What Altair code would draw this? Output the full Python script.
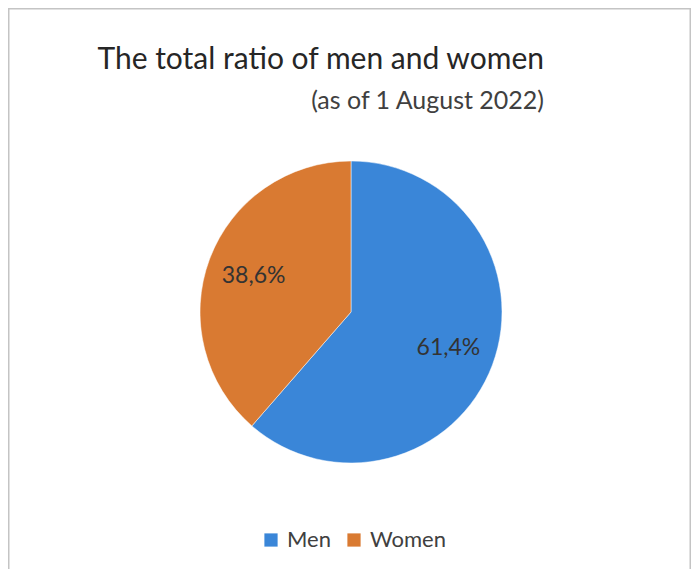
import altair as alt
import pandas as pd

categories = ["Men", "Women"]
shares = [61.4, 38.6]
labels = ["61,4%", "38,6%"]
colors = ["#3A86D8", "#D97A32"]
title_text = "The total ratio of men and women"
subtitle_text = "(as of 1 August 2022)"

df = pd.DataFrame({"sex": categories, "share": shares, "label": labels, "order": [0, 1]})

W, H = 683, 561
CX, CY, R = 343, 304, 151
FONT = "Lato"

base = alt.Chart(df).encode(
    theta=alt.Theta("share:Q", stack=True),
    order=alt.Order("order:Q"),
)

pie = base.mark_arc(outerRadius=R, stroke="white", strokeWidth=0.5).encode(
    x=alt.value(CX), y=alt.value(CY),
    color=alt.Color("sex:N", scale=alt.Scale(domain=categories, range=colors),
                    legend=alt.Legend(orient="none", direction="horizontal", title=None,
                                      legendX=252, legendY=521, symbolType="square",
                                      symbolSize=175, labelFontSize=22, labelFont=FONT,
                                      labelColor="#404040", columnPadding=12,
                                      symbolStrokeWidth=0, labelOffset=5)),
)

txt = base.mark_text(radius=104, fontSize=23, font=FONT, color="#333333").encode(
    x=alt.value(CX), y=alt.value(CY), text="label:N"
)

tdf = pd.DataFrame({"t": [title_text, subtitle_text], "k": [0, 1]})
title = alt.Chart(tdf).transform_filter("datum.k == 0").mark_text(
    align="right", baseline="alphabetic", fontSize=30, font=FONT, color="#262626"
).encode(text="t:N", x=alt.value(536), y=alt.value(61))
subtitle = alt.Chart(tdf).transform_filter("datum.k == 1").mark_text(
    align="right", baseline="alphabetic", fontSize=25, font=FONT, color="#404040"
).encode(text="t:N", x=alt.value(536), y=alt.value(101))

edges = pd.DataFrame({"e": ["top", "left", "right"]})
border_top = alt.Chart(edges).transform_filter("datum.e == 'top'").mark_rule(
    color="#c4c4c4", strokeWidth=1.5).encode(x=alt.value(0), x2=alt.value(W), y=alt.value(0.75))
border_left = alt.Chart(edges).transform_filter("datum.e == 'left'").mark_rule(
    color="#c4c4c4", strokeWidth=1.5).encode(x=alt.value(0.75), y=alt.value(0), y2=alt.value(H))
border_right = alt.Chart(edges).transform_filter("datum.e == 'right'").mark_rule(
    color="#c4c4c4", strokeWidth=1.5).encode(x=alt.value(W - 0.75), y=alt.value(0), y2=alt.value(H))

chart = alt.layer(pie, txt, title, subtitle, border_top, border_left, border_right).properties(
    width=W, height=H, padding=0, autosize="none"
).configure_view(stroke=None).configure(background="white")

chart.save("out.html", embed_options={"renderer": "svg", "actions": False})
